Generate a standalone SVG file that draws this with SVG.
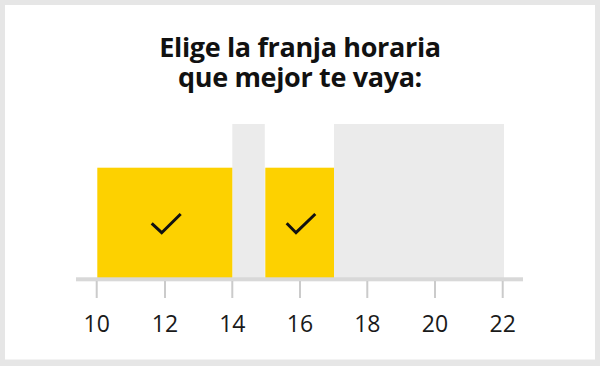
<svg xmlns="http://www.w3.org/2000/svg" width="600" height="366" viewBox="0 0 600 366">
<style>
.title{font-family:"Open Sans","Noto Sans",sans-serif;font-weight:700;font-size:27px;letter-spacing:-0.35px;fill:#111;text-anchor:middle}
.lbl{font-family:"Open Sans","Noto Sans",sans-serif;font-size:23px;fill:#1a1a1a;text-anchor:middle}
.sel{fill:#FDD100}
.free{fill:#EBEBEB}
.tick{stroke:#CBCBCB;stroke-width:2}
.chk{fill:none;stroke:#111;stroke-width:3}
</style>
<rect x="0" y="0" width="600" height="366" fill="#E6E6E6"/>
<rect x="5" y="5" width="590" height="354.5" fill="#FFFFFF"/>
<g id="title">
<text class="title" x="300" y="57">Elige la franja horaria</text>
<text class="title" x="300" y="86.5">que mejor te vaya:</text>
</g>
<g id="slot-14-15"><rect class="free" x="232.3" y="124" width="32.5" height="154"/></g>
<g id="slot-17-22"><rect class="free" x="334" y="124" width="170" height="154"/></g>
<g id="slot-10-14">
<rect class="sel" x="97.3" y="167.7" width="135" height="110.3"/>
<polyline class="chk" points="151.7,223.3 161.7,232.7 180.7,214"/>
</g>
<g id="slot-15-17">
<rect class="sel" x="265.3" y="167.7" width="68.7" height="110.3"/>
<polyline class="chk" points="286.7,223.3 296,232.7 315.3,214"/>
</g>
<g id="axis">
<rect x="76" y="277.3" width="447" height="4" fill="#D8D8D8"/>
<line class="tick" x1="96.7" y1="281" x2="96.7" y2="298"/>
<line class="tick" x1="165" y1="281" x2="165" y2="298"/>
<line class="tick" x1="232.3" y1="281" x2="232.3" y2="298"/>
<line class="tick" x1="300" y1="281" x2="300" y2="298"/>
<line class="tick" x1="367.3" y1="281" x2="367.3" y2="298"/>
<line class="tick" x1="435" y1="281" x2="435" y2="298"/>
<line class="tick" x1="502.7" y1="281" x2="502.7" y2="298"/>
<text class="lbl" x="96.7" y="331.5">10</text>
<text class="lbl" x="165" y="331.5">12</text>
<text class="lbl" x="232.3" y="331.5">14</text>
<text class="lbl" x="300" y="331.5">16</text>
<text class="lbl" x="367.3" y="331.5">18</text>
<text class="lbl" x="435" y="331.5">20</text>
<text class="lbl" x="502.7" y="331.5">22</text>
</g>
</svg>
